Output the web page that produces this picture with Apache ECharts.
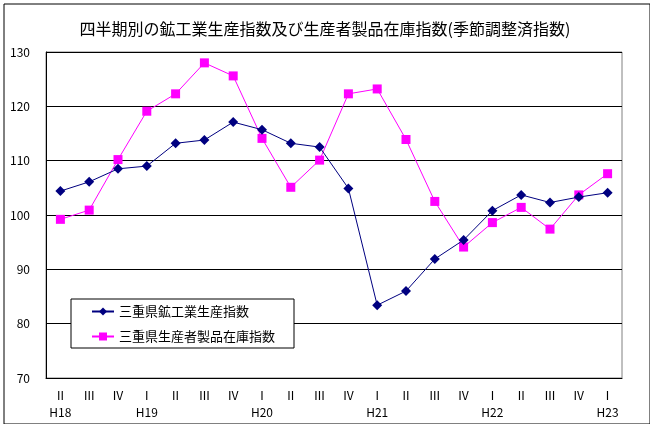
<!DOCTYPE html>
<html>
<head>
<meta charset="utf-8">
<script src="https://cdn.jsdelivr.net/npm/echarts@6/dist/echarts.min.js"></script>
<style>
html,body{margin:0;padding:0;background:#fff;}
#c{width:650px;height:424px;}
</style>
</head>
<body>
<div id="c"></div>
<script>
const titleText = '四半期別の鉱工業生産指数及び生産者製品在庫指数(季節調整済指数)';
const categories = ['Ⅱ\nH18','Ⅲ','Ⅳ','Ⅰ\nH19','Ⅱ','Ⅲ','Ⅳ','Ⅰ\nH20','Ⅱ','Ⅲ','Ⅳ','Ⅰ\nH21','Ⅱ','Ⅲ','Ⅳ','Ⅰ\nH22','Ⅱ','Ⅲ','Ⅳ','Ⅰ\nH23'];
const seriesNames = ['三重県鉱工業生産指数','三重県生産者製品在庫指数'];
const production = [104.4,106.1,108.5,109.0,113.2,113.8,117.1,115.7,113.2,112.5,104.9,83.4,86.0,91.9,95.4,100.8,103.7,102.3,103.3,104.1];
const inventory = [99.2,100.9,110.2,119.1,122.3,128.0,125.6,114.1,105.1,110.1,122.3,123.2,113.9,102.5,94.1,98.6,101.4,97.4,103.7,107.6];
const yMin = 70, yMax = 130, yStep = 10;

const FONT = "'Noto Sans CJK JP', sans-serif";
const chart = echarts.init(document.getElementById('c'), null, {renderer:'canvas'});
chart.setOption({
  animation:false,
  backgroundColor:'#fff',
  textStyle:{fontFamily:FONT, color:'#000'},
  graphic:[{
    type:'rect', left:1.5, top:1.5, z:-1,
    shape:{x:0,y:0,width:646,height:420},
    style:{fill:'none', stroke:'#000', lineWidth:1}
  }],
  title:{
    text:titleText, left:'center', top:16,
    textStyle:{fontFamily:FONT, fontSize:16, fontWeight:'normal', color:'#000'}
  },
  legend:{
    orient:'vertical', left:71, top:299,
    backgroundColor:'#fff', borderColor:'#000', borderWidth:1,
    padding:[6,19,5,20], itemGap:12, itemWidth:22, itemHeight:10,
    selectedMode:false,
    textStyle:{fontFamily:FONT, fontSize:13, color:'#000'},
    data:seriesNames
  },
  grid:{left:46, right:28, top:52, bottom:46, show:true, borderColor:'#808080', borderWidth:1, backgroundColor:'transparent'},
  xAxis:{
    type:'category', data:categories, boundaryGap:true,
    axisLine:{lineStyle:{color:'#000', width:1}},
    axisTick:{inside:true, length:4, lineStyle:{color:'#000'}},
    axisLabel:{fontFamily:FONT, fontSize:12, color:'#000', lineHeight:17, margin:9, interval:0}
  },
  yAxis:{
    type:'value', min:yMin, max:yMax, interval:yStep,
    axisLine:{show:true, lineStyle:{color:'#000', width:1}},
    axisTick:{show:false},
    splitLine:{lineStyle:{color:'#000', width:1}},
    axisLabel:{fontFamily:FONT, fontSize:12, color:'#000', margin:16}
  },
  series:[
    {name:seriesNames[0], type:'line', data:production, symbol:'diamond', symbolSize:10,
     lineStyle:{color:'#000080', width:1}, itemStyle:{color:'#000080'}, z:3},
    {name:seriesNames[1], type:'line', data:inventory, symbol:'rect', symbolSize:9,
     lineStyle:{color:'#FF00FF', width:1}, itemStyle:{color:'#FF00FF'}, z:2}
  ]
});
</script>
</body>
</html>
